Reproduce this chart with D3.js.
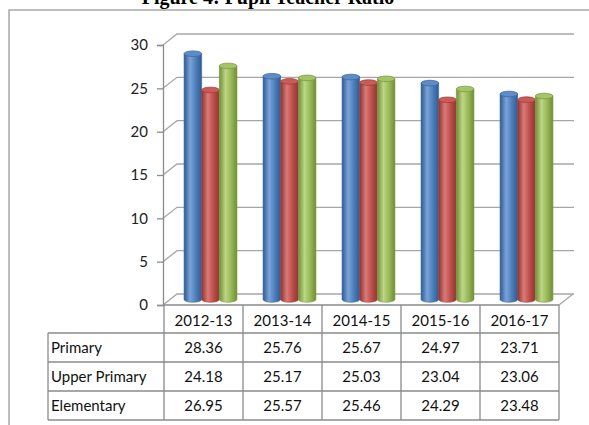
<!DOCTYPE html>
<html>
<head>
<meta charset="utf-8">
<script src="https://cdn.jsdelivr.net/npm/d3@7"></script>
<style>
  body { margin: 0; background: #fff; }
  svg { display: block; }
</style>
</head>
<body>
<svg width="589" height="425"></svg>
<script>
var years = ["2012-13", "2013-14", "2014-15", "2015-16", "2016-17"];
var seriesNames = ["Primary", "Upper Primary", "Elementary"];
var primary = [28.36, 25.76, 25.67, 24.97, 23.71];
var upperPrimary = [24.18, 25.17, 25.03, 23.04, 23.06];
var elementary = [26.95, 25.57, 25.46, 24.29, 23.48];
var yTicks = [0, 5, 10, 15, 20, 25, 30];

var seriesValues = [primary, upperPrimary, elementary];
var colors = [
  {base: "#4f81bd", dark: "#2f5b92", light: "#7aa3d8", top: "#5d8cc6", rim: "#3c6aa3"},
  {base: "#c0504d", dark: "#8f3431", light: "#d97b78", top: "#c95c59", rim: "#a03d3a"},
  {base: "#9bbb59", dark: "#6f8d36", light: "#bcd586", top: "#a5c466", rim: "#7d9a42"}
];

var svg = d3.select("svg"),
    depthX = 14,
    depthY = -11,
    font = "Lato, 'Open Sans', sans-serif";

var x = d3.scaleBand()
  .domain(years)
  .range([164, 559]);

var x1 = d3.scaleBand()
  .domain(seriesNames)
  .range([0, x.bandwidth()])
  .paddingOuter(0.74);

var y = d3.scaleLinear()
  .domain([0, 30])
  .range([305, 45]);

// title, cut off at the top of the page
svg.append("text")
  .attr("x", 268)
  .attr("y", 4)
  .attr("text-anchor", "middle")
  .style("font", "bold 20px 'Liberation Serif', serif")
  .style("fill", "#000")
  .text("Figure 4: Pupil Teacher Ratio");

// outer frame
svg.append("rect")
  .attr("x", 9)
  .attr("y", 10)
  .attr("width", 700)
  .attr("height", 600)
  .style("fill", "none")
  .style("stroke", "#a8a8a8")
  .style("stroke-width", 1.5);

var defs = svg.append("defs");
colors.forEach(function(c, i) {
  var grad = defs.append("linearGradient")
    .attr("id", "cyl" + i)
    .attr("x1", "0%").attr("x2", "100%")
    .attr("y1", "0%").attr("y2", "0%");
  grad.append("stop").attr("offset", "0%").attr("stop-color", c.dark);
  grad.append("stop").attr("offset", "35%").attr("stop-color", c.light);
  grad.append("stop").attr("offset", "65%").attr("stop-color", c.base);
  grad.append("stop").attr("offset", "100%").attr("stop-color", c.dark);
});

var grid = svg.append("g");
var x0 = x.range()[0] - 1, x9 = x.range()[1] + depthX + 1;

// back wall gridlines + left wall diagonals
grid.selectAll(".back")
  .data(yTicks)
  .enter().append("path")
    .attr("d", function(d) {
      return "M" + x0 + "," + y(d) + "L" + (x0 + depthX) + "," + (y(d) + depthY) +
        "L" + x9 + "," + (y(d) + depthY);
    })
    .style("fill", "none")
    .style("stroke", "#a6a6a6")
    .style("stroke-width", 1.3);

// floor right edge
grid.append("path")
  .attr("d", "M" + x.range()[1] + "," + y(0) + "L" + (x.range()[1] + depthX) + "," + (y(0) + depthY))
  .style("stroke", "#a6a6a6")
  .style("stroke-width", 1.3);

// y axis
var axis = svg.append("g")
  .attr("transform", "translate(" + x0 + ",0)")
  .call(d3.axisLeft(y).tickValues(yTicks).tickSize(6).tickPadding(9));
axis.select(".domain").style("stroke", "#8c8c8c").style("stroke-width", 1.3);
axis.selectAll(".tick line").style("stroke", "#8c8c8c").style("stroke-width", 1.3);
axis.selectAll("text")
  .style("font", "15px " + font)
  .style("fill", "#222");

// bars as cylinders
var ry = 2.8;
var bars = svg.append("g")
  .attr("transform", "translate(" + (depthX / 2) + "," + (depthY / 2) + ")");

var groups = bars.selectAll(".grp")
  .data(years)
  .enter().append("g")
    .attr("transform", function(d) { return "translate(" + x(d) + ",0)"; });

groups.selectAll(".cyl")
  .data(function(d, i) {
    return seriesNames.map(function(s, j) { return {series: s, idx: j, value: seriesValues[j][i]}; });
  })
  .enter().append("g")
    .each(function(d) {
      var g = d3.select(this),
          left = x1(d.series),
          w = x1.bandwidth(),
          rx = w / 2,
          top = y(d.value),
          bot = y(0);
      g.append("path")
        .attr("d", "M" + left + "," + top + "L" + left + "," + bot +
          "A" + rx + "," + ry + " 0 0 0 " + (left + w) + "," + bot +
          "L" + (left + w) + "," + top + "Z")
        .style("fill", "url(#cyl" + d.idx + ")")
        .style("stroke", colors[d.idx].rim)
        .style("stroke-width", 0.6);
      g.append("ellipse")
        .attr("cx", left + rx)
        .attr("cy", top)
        .attr("rx", rx)
        .attr("ry", ry)
        .style("fill", colors[d.idx].top)
        .style("stroke", colors[d.idx].rim)
        .style("stroke-width", 0.8);
    });

// data table
var table = svg.append("g");
var rowTop = 333, rowH = 29, labelLeft = 48;
var lineStyle = function(sel) {
  sel.style("stroke", "#8a8a8a").style("stroke-width", 1.3).style("fill", "none");
};

// header borders
table.selectAll(".hv")
  .data(years.concat(["end"]))
  .enter().append("line")
    .attr("x1", function(d) { return d == "end" ? x.range()[1] : x(d); })
    .attr("x2", function(d) { return d == "end" ? x.range()[1] : x(d); })
    .attr("y1", y(0))
    .attr("y2", rowTop + rowH * seriesNames.length)
    .call(lineStyle);

table.append("line")
  .attr("x1", x.range()[0]).attr("x2", x.range()[1])
  .attr("y1", y(0)).attr("y2", y(0))
  .call(lineStyle);

table.selectAll(".hh")
  .data(d3.range(seriesNames.length + 1))
  .enter().append("line")
    .attr("x1", labelLeft)
    .attr("x2", x.range()[1])
    .attr("y1", function(d) { return rowTop + d * rowH; })
    .attr("y2", function(d) { return rowTop + d * rowH; })
    .call(lineStyle);

table.append("line")
  .attr("x1", labelLeft).attr("x2", labelLeft)
  .attr("y1", rowTop).attr("y2", rowTop + rowH * seriesNames.length)
  .call(lineStyle);

table.selectAll(".hdr")
  .data(years)
  .enter().append("text")
    .attr("x", function(d) { return x(d) + x.bandwidth() / 2; })
    .attr("y", y(0) + 21)
    .attr("text-anchor", "middle")
    .style("font", "15px " + font)
    .style("fill", "#111")
    .text(function(d) { return d; });

seriesNames.forEach(function(s, j) {
  var ty = rowTop + j * rowH + 20;
  table.append("text")
    .attr("x", labelLeft + 3)
    .attr("y", ty)
    .style("font", "15px " + font)
    .style("fill", "#111")
    .text(s);
  table.selectAll(".v" + j)
    .data(seriesValues[j])
    .enter().append("text")
      .attr("x", function(d, i) { return x(years[i]) + x.bandwidth() / 2; })
      .attr("y", ty)
      .attr("text-anchor", "middle")
      .style("font", "15px " + font)
      .style("fill", "#111")
      .text(function(d) { return d.toFixed(2); });
});
</script>
</body>
</html>
